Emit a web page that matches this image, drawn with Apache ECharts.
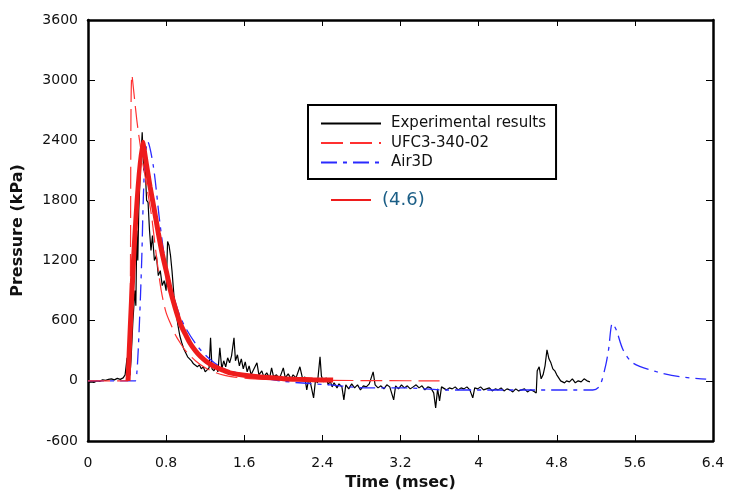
<!DOCTYPE html>
<html><head><meta charset="utf-8">
<script src="https://cdn.jsdelivr.net/npm/echarts@6/dist/echarts.min.js"></script>
<style>html,body{margin:0;padding:0;background:#fff}#c{width:729px;height:493px}</style>
</head><body><div id="c"></div>
<script>
// ---- data ----
const xTicks = [0, 0.8, 1.6, 2.4, 3.2, 4, 4.8, 5.6, 6.4];
const yTicks = [-600, 0, 600, 1200, 1800, 2400, 3000, 3600];

const expT = [0,0.03,0.06,0.09,0.12,0.15,0.18,0.21,0.24,0.27,0.30,0.33,0.36,0.38,0.40,0.41,0.43,0.44,0.46,0.48,0.49,0.50,0.51,0.52,0.54,0.555,0.57,0.58,0.60,0.615,0.63,0.645,0.66,0.68,0.70,0.72,0.74,0.76,0.78,0.80,0.815,0.83,0.845,0.86,0.88,0.90,0.92,0.94,0.96,0.98,1.00,1.02,1.04,1.06,1.08,1.10,1.12,1.14,1.16,1.18,1.20,1.22,1.24,1.255,1.27,1.29,1.31,1.33,1.35,1.37,1.39,1.41,1.43,1.45,1.47,1.495,1.51,1.53,1.55,1.57,1.59,1.61,1.63,1.65,1.67,1.70,1.73,1.75,1.78,1.80,1.83,1.86,1.88,1.90,1.93,1.96,2.00,2.02,2.05,2.08,2.10,2.13,2.17,2.20,2.22,2.24,2.26,2.28,2.31,2.33,2.35,2.376,2.39,2.41,2.44,2.46,2.48,2.50,2.52,2.55,2.57,2.60,2.62,2.64,2.67,2.70,2.73,2.76,2.79,2.82,2.85,2.88,2.92,2.94,2.97,3.00,3.03,3.06,3.09,3.13,3.15,3.18,3.21,3.24,3.27,3.30,3.33,3.36,3.39,3.42,3.45,3.48,3.51,3.54,3.56,3.58,3.60,3.62,3.64,3.67,3.70,3.73,3.76,3.79,3.82,3.85,3.88,3.91,3.94,3.96,3.99,4.02,4.05,4.08,4.11,4.14,4.17,4.20,4.23,4.26,4.29,4.32,4.35,4.38,4.41,4.44,4.47,4.50,4.53,4.56,4.59,4.60,4.62,4.64,4.66,4.68,4.70,4.72,4.74,4.76,4.78,4.80,4.82,4.84,4.86,4.88,4.90,4.93,4.96,4.99,5.02,5.05,5.08,5.11,5.14];
const expP = [-20,-10,-15,0,-5,10,5,15,20,10,25,15,30,60,230,40,60,200,600,900,750,1500,1200,1700,2200,2480,2100,2250,1800,1780,1500,1300,1450,1200,1250,1050,1100,950,1000,900,1390,1350,1250,1100,850,700,560,450,380,320,280,240,230,200,170,180,140,160,120,140,90,110,130,430,120,100,150,90,330,120,200,140,230,180,250,430,200,260,150,220,120,190,90,150,60,120,180,60,100,40,80,30,130,40,60,20,130,30,70,20,60,30,140,10,40,-90,20,-30,-170,10,-20,240,50,-10,30,-40,0,-60,-20,-70,-30,-60,-190,-40,-80,-30,-70,-40,-90,-50,-60,-30,90,-40,-70,-50,-80,-40,-60,-190,-50,-80,-40,-70,-50,-80,-60,-40,-70,-50,-90,-60,-70,-120,-270,-80,-200,-60,-60,-90,-70,-80,-60,-90,-70,-80,-60,-90,-170,-70,-80,-60,-90,-80,-70,-100,-80,-90,-70,-100,-80,-90,-110,-80,-100,-90,-80,-110,-90,-100,-120,100,140,20,60,150,310,220,180,120,100,60,30,0,10,-20,0,-10,20,-20,0,-10,20,0,-10];

const ufcT = [0,0.41,0.45,0.50,0.55,0.60,0.65,0.70,0.75,0.80,0.85,0.90,0.95,1.00,1.10,1.20,1.30,1.40,1.50,1.70,2.00,2.50,3.00,3.60];
const ufcP = [0,0,3050,2600,2250,1950,1650,1250,900,680,560,450,370,300,200,130,85,55,38,20,10,5,2,0];

const airT = [0,0.48,0.50,0.525,0.55,0.566,0.584,0.611,0.67,0.737,0.80,0.94,1.11,1.28,1.45,1.97,2.48,2.89,3.26,3.64,4.5,5.17,5.24,5.30,5.33,5.37,5.41,5.48,5.58,5.82,6.06,6.33];
const airP = [0,0,78,540,1206,1804,2203,2386,2136,1570,1150,650,360,190,100,0,-41,-71,-71,-91,-91,-91,-50,150,308,574,507,308,178,91,41,18];

const fitT = [0.41,0.56,0.60,0.635,0.68,0.72,0.76,0.806,0.85,0.908,0.95,1.00,1.044,1.10,1.15,1.215,1.30,1.40,1.454,1.60,1.79,2.00,2.14,2.30,2.51];
const fitP = [0,2380,2150,1940,1700,1475,1270,1076,880,680,560,460,378,300,245,191,140,100,80,55,35,22,16,11,8];

const zip = (a, b) => a.map((v, i) => [v, b[i]]);

const chart = echarts.init(document.getElementById('c'), null, {renderer: 'canvas'});
const font = 'DejaVu Sans, sans-serif';
const frame = {show: true, onZero: false, lineStyle: {color: '#000', width: 2.5}};
const tick = len => ({show: true, inside: true, length: len, lineStyle: {color: '#000', width: 1}});
chart.setOption({
  animation: false,
  grid: {left: 88, right: 16, top: 20, bottom: 52, containLabel: false, outerBoundsMode: 'none'},
  legend: [{
    orient: 'vertical', left: 308, top: 105,
    data: ['Experimental results', 'UFC3-340-02', 'Air3D'],
    borderColor: '#000', borderWidth: 2, padding: [11, 10, 9, 12],
    itemWidth: 60, itemHeight: 8, itemGap: 4.5,
    itemStyle: {opacity: 0},
    textStyle: {fontFamily: font, fontSize: 15, color: '#111', padding: [0, 0, 0, 5]}
  }, {
    left: 325, top: 186, data: ['(4.6)'], itemWidth: 40, itemHeight: 10,
    itemStyle: {opacity: 0},
    textStyle: {fontFamily: font, fontSize: 18, color: '#1b5e86', padding: [0, 0, 0, 6]}
  }],
  xAxis: [{
    type: 'value', min: 0, max: 6.4, interval: 0.8,
    name: 'Time (msec)', nameLocation: 'middle', nameGap: 32,
    nameTextStyle: {fontFamily: font, fontSize: 16, fontWeight: 'bold', color: '#111'},
    axisLine: frame, axisTick: tick(6),
    axisLabel: {fontFamily: font, fontSize: 14, color: '#111', margin: 15,
      formatter: v => String(xTicks.find(t => Math.abs(t - v) < 1e-6) ?? v)},
    splitLine: {show: false}
  }, {
    type: 'value', min: 0, max: 6.4, interval: 0.8, position: 'top',
    axisLine: frame, axisTick: tick(6),
    axisLabel: {show: false}, splitLine: {show: false}
  }],
  yAxis: [{
    type: 'value', min: -600, max: 3600, interval: 600,
    name: 'Pressure (kPa)', nameLocation: 'middle', nameGap: 62,
    nameTextStyle: {fontFamily: font, fontSize: 16, fontWeight: 'bold', color: '#111'},
    axisLine: frame, axisTick: tick(7),
    axisLabel: {fontFamily: font, fontSize: 14, color: '#111', margin: 10,
      formatter: v => String(yTicks.find(t => Math.abs(t - v) < 1e-6) ?? v)},
    splitLine: {show: false}
  }, {
    type: 'value', min: -600, max: 3600, interval: 600, position: 'right',
    axisLine: frame, axisTick: tick(7),
    axisLabel: {show: false}, splitLine: {show: false}
  }],
  series: [{
    name: 'Experimental results', type: 'line', data: zip(expT, expP),
    symbol: 'none', lineStyle: {color: '#000', width: 1.2}, itemStyle: {color: '#000'}, z: 2
  }, {
    name: 'Air3D', type: 'line', data: zip(airT, airP),
    symbol: 'none', smooth: 0.3,
    lineStyle: {color: '#2a2aff', width: 1.3, type: [16, 6, 4, 6]}, itemStyle: {color: '#2a2aff'}, z: 3
  }, {
    name: 'UFC3-340-02', type: 'line', data: zip(ufcT, ufcP),
    symbol: 'none', smooth: 0.3,
    lineStyle: {color: '#ff3030', width: 1.2, type: [22, 7]}, itemStyle: {color: '#ff3030'}, z: 4
  }, {
    name: '(4.6)', type: 'line', data: zip(fitT, fitP),
    symbol: 'none', smooth: 0.3,
    lineStyle: {color: '#ee1c1c', width: 5}, itemStyle: {color: '#ee1c1c'}, z: 5
  }]
});
</script>
</body></html>
